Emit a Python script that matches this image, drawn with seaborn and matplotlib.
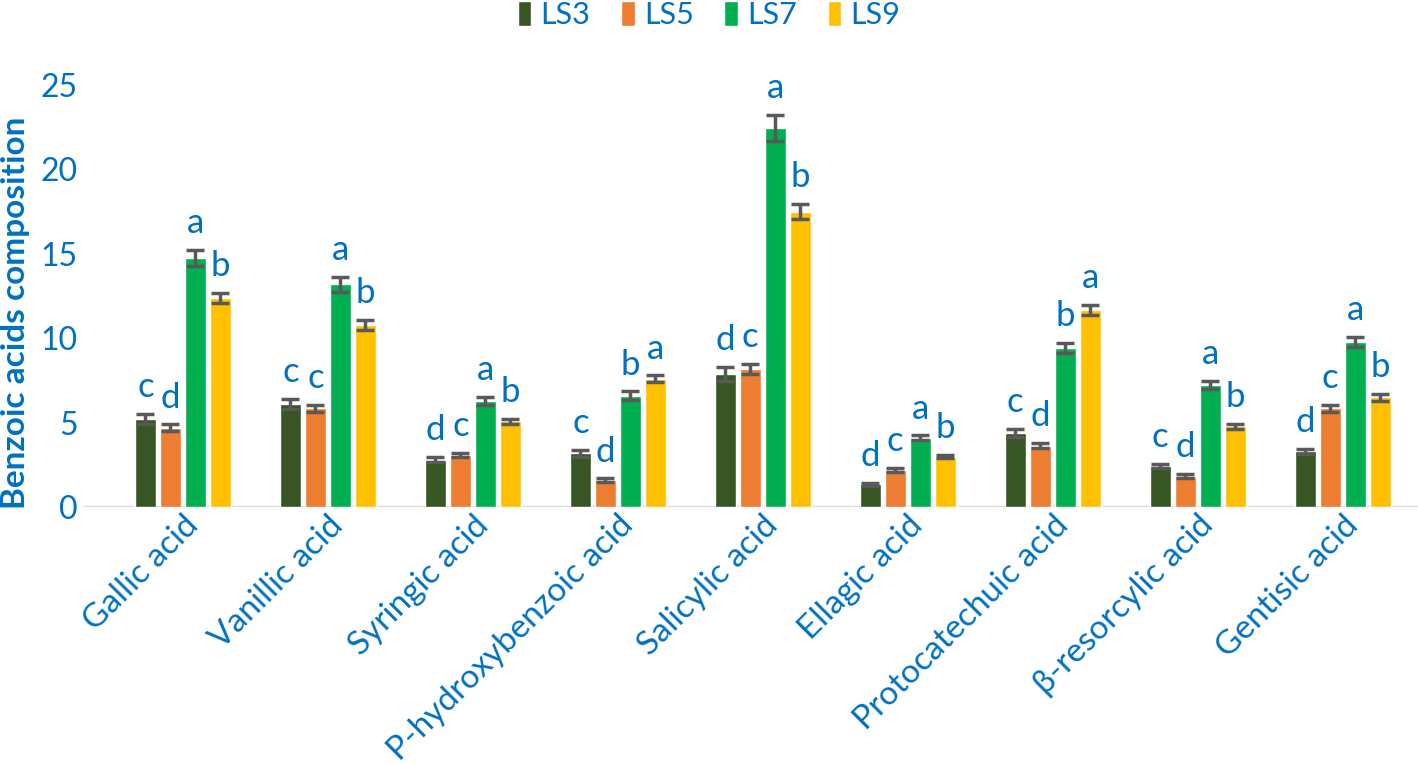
import numpy as np
import pandas as pd
import matplotlib
matplotlib.use("Agg")
import matplotlib.pyplot as plt
import seaborn as sns

categories = ["Gallic acid", "Vanillic acid", "Syringic acid", "P-hydroxybenzoic acid",
              "Salicylic acid", "Ellagic acid", "Protocatechuic acid",
              "\u03b2-resorcylic acid", "Gentisic acid"]
series = ["LS3", "LS5", "LS7", "LS9"]

ls3 = [5.2, 6.1, 2.8, 3.2, 7.9, 1.35, 4.4, 2.45, 3.3]
ls5 = [4.7, 5.85, 3.1, 1.6, 8.2, 2.2, 3.65, 1.85, 5.85]
ls7 = [14.75, 13.2, 6.3, 6.6, 22.45, 4.1, 9.4, 7.25, 9.8]
ls9 = [12.4, 10.8, 5.1, 7.6, 17.5, 3.0, 11.7, 4.8, 6.5]

err3 = [0.3, 0.3, 0.15, 0.2, 0.4, 0.1, 0.25, 0.12, 0.15]
err5 = [0.2, 0.2, 0.1, 0.1, 0.3, 0.1, 0.15, 0.1, 0.2]
err7 = [0.5, 0.45, 0.25, 0.25, 0.75, 0.15, 0.3, 0.25, 0.3]
err9 = [0.3, 0.3, 0.15, 0.2, 0.45, 0.1, 0.3, 0.15, 0.2]

let3 = ["c", "c", "d", "c", "d", "d", "c", "c", "d"]
let5 = ["d", "c", "c", "d", "c", "c", "d", "d", "c"]
let7 = ["a", "a", "a", "b", "a", "a", "b", "a", "a"]
let9 = ["b", "b", "b", "a", "b", "b", "a", "b", "b"]

colors = ["#375623", "#ED7D31", "#00B050", "#FFC000"]
blue = "#0070C0"

values = [ls3, ls5, ls7, ls9]
errs = [err3, err5, err7, err9]
letters = [let3, let5, let7, let9]

df = pd.DataFrame({
    "category": categories * 4,
    "series": [s for s in series for _ in categories],
    "value": ls3 + ls5 + ls7 + ls9,
})

sns.set_theme(style="white")
plt.rcParams["font.family"] = ["Lato", "DejaVu Sans"]

fig = plt.figure(figsize=(14.18, 7.65), dpi=100)
ax = fig.add_axes([0.0585, 0.337, 0.9415, 0.552])

sns.barplot(data=df, x="category", y="value", hue="series", order=categories,
            hue_order=series, palette=colors, errorbar=None, width=0.69, gap=0.16,
            saturation=1, ax=ax)

bar_containers = list(ax.containers)
for si, cont in enumerate(bar_containers):
    for ci, patch in enumerate(cont.patches):
        xc = patch.get_x() + patch.get_width() / 2
        h = patch.get_height()
        e = errs[si][ci]
        ax.errorbar(xc, h, yerr=e, color="#595959", lw=2.5, capsize=6.5,
                    capthick=2.5, zorder=3)
        ax.text(xc, h + e + 1.0, letters[si][ci], color=blue, fontsize=25,
                ha="center", va="baseline", clip_on=False)

ax.set_ylim(0, 25)
ax.set_xlim(-0.69, 8.52)
ax.set_yticks([0, 5, 10, 15, 20, 25])
ax.tick_params(axis="y", labelsize=23, colors=blue, length=0, pad=4)
ax.tick_params(axis="x", labelsize=24, colors=blue, length=0, pad=2)
plt.setp(ax.get_xticklabels(), rotation=45, ha="right", rotation_mode="anchor")
for sp in ax.spines.values():
    sp.set_visible(False)
ax.axhline(0, color="#E3D9D6", lw=2.5, zorder=0)
ax.set_xlabel("")
ax.set_ylabel("Benzoic acids composition", color=blue, fontsize=24,
              fontweight="bold")
ax.yaxis.set_label_coords(-0.040, 0.46)

handles, labels = ax.get_legend_handles_labels()
if ax.legend_ is not None:
    ax.legend_.remove()
fig.legend(handles, labels, loc="upper center", bbox_to_anchor=(0.5, 1.035), ncol=4,
           frameon=False, fontsize=22, handlelength=0.45, handleheight=0.9,
           handletextpad=0.3, columnspacing=1.0, labelcolor=blue)

fig.savefig("out.png", dpi=100)
